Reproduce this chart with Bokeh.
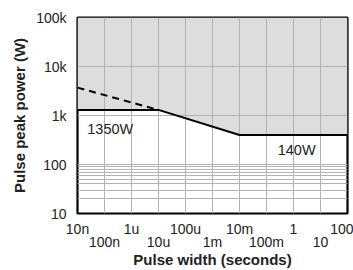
from bokeh.plotting import figure
from bokeh.models import Range1d, FixedTicker, LogAxis, CustomJSTickFormatter
from bokeh.core.properties import value
from bokeh.embed import file_html
from bokeh.resources import INLINE

# ---- data ----
curve_x = [1e-8, 1e-5, 1e-2, 1e2]          # pulse width (s)
curve_y = [1300, 1300, 400, 400]            # pulse peak power limit (W)
dash_x = [1e-8, 1e-5]
dash_y = [3700, 1300]
x_exps_row1 = [-8, -6, -4, -2, 0, 2]
x_labels_row1 = ["10n", "1u", "100u", "10m", "1", "100"]
x_exps_row2 = [-7, -5, -3, -1, 1]
x_labels_row2 = ["100n", "10u", "1m", "100m", "10"]
y_exps = [1, 2, 3, 4, 5]
y_labels = ["10", "100", "1k", "10k", "100k"]
note_text = ["1350W", "140W"]
note_x = [2.3e-8, 0.26]
note_y = [530, 196]

FONT = "Liberation Sans"
TXT = "#222222"
GRID = "#b3b3b3"

p = figure(width=353, height=270, x_axis_type="log", y_axis_type="log",
           x_range=Range1d(1e-8, 1e2), y_range=Range1d(10, 1e5),
           output_backend="svg", toolbar_location=None,
           min_border_left=77, min_border_right=6, min_border_top=17, min_border_bottom=56)

p.outline_line_color = "black"
p.outline_line_width = 2.2

# shaded region above the limit curve
p.varea(x=curve_x, y1=curve_y, y2=[1e5] * len(curve_x), fill_color="#dddddd", level="image")

# grid
p.xgrid.ticker = FixedTicker(ticks=[10.0 ** e for e in range(-7, 2)])
p.ygrid.ticker = FixedTicker(ticks=[20, 30, 40, 50, 60, 70, 80, 90, 100, 1000, 10000])
for g in (p.xgrid, p.ygrid):
    g.grid_line_color = GRID
    g.grid_line_width = 1

p.line(dash_x, dash_y, line_color="black", line_width=2, line_dash="7 5")
p.line(curve_x, curve_y, line_color="black", line_width=2)

p.text(x=note_x, y=note_y, text=note_text, text_font=value(FONT), text_font_size="14.5px",
       text_color=TXT, text_align="left", text_baseline="middle")

code = "const e = Math.round(Math.log10(tick)); const i = exps.indexOf(e); return i >= 0 ? labels[i] : '';"

def style(ax):
    ax.axis_line_color = None
    ax.major_tick_out = 0
    ax.major_tick_in = 0
    ax.minor_tick_out = 0
    ax.minor_tick_in = 0
    ax.major_label_text_font = FONT
    ax.major_label_text_font_size = "14px"
    ax.major_label_text_color = TXT
    ax.axis_label_text_font = FONT
    ax.axis_label_text_font_style = "bold"
    ax.axis_label_text_font_size = "15px"
    ax.axis_label_text_color = TXT

# y axis
ya = p.yaxis[0]
ya.ticker = FixedTicker(ticks=[10.0 ** e for e in y_exps])
ya.formatter = CustomJSTickFormatter(args=dict(exps=y_exps, labels=y_labels), code=code)
style(ya)
ya.major_label_standoff = 11
ya.axis_label = "Pulse peak power (W)"
ya.axis_label_standoff = 5

# x axis row 1
xa = p.xaxis[0]
xa.ticker = FixedTicker(ticks=[10.0 ** e for e in x_exps_row1])
xa.formatter = CustomJSTickFormatter(args=dict(exps=x_exps_row1, labels=x_labels_row1), code=code)
style(xa)
xa.major_label_standoff = 7

# x axis row 2
xb = LogAxis(ticker=FixedTicker(ticks=[10.0 ** e for e in x_exps_row2]),
             formatter=CustomJSTickFormatter(args=dict(exps=x_exps_row2, labels=x_labels_row2), code=code))
style(xb)
xb.major_label_standoff = -6
xb.axis_label = "Pulse width (seconds)"
xb.axis_label_standoff = -2
p.add_layout(xb, "below")

open("out.html", "w").write(file_html(p, INLINE))
